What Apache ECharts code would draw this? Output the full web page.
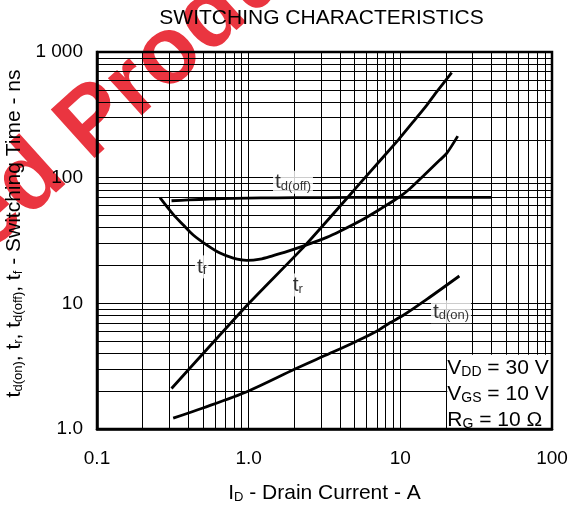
<!DOCTYPE html>
<html><head><meta charset="utf-8">
<script src="https://cdn.jsdelivr.net/npm/echarts@6/dist/echarts.min.js"></script>
<style>html,body{margin:0;padding:0;background:#fff}#c{width:580px;height:506px}</style>
</head><body><div id="c"></div>
<script>
// ---- tick labels ----
const xTickLabels = ['0.1', '1.0', '10', '100'];
const yTickLabels = ['1.0', '10', '100', '1 000'];
// ---- grid line positions (data units) ----
const gridX = [0.2,0.3,0.4,0.5,0.6,0.7,0.8,0.9,1,2,3,4,5,6,7,8,9,10,20,30,40,50,60,70,80,90];
const gridY = [2,3,4,5,6,7,8,9,10,20,30,40,50,60,70,80,90,100,200,300,400,500,600,700,800,900];
// ---- curves ----
const tdOffX = [0.31, 0.4, 0.55, 0.8, 1.2, 2, 5, 40];
const tdOffY = [65.5, 66.5, 67.5, 68.5, 69, 69.3, 69.6, 69.8];
const tfX = [0.26, 0.318, 0.371, 0.431, 0.528, 0.647, 0.792, 0.97, 1.19, 1.45, 1.78, 2.41, 3.27, 4.0, 5.69, 7.5, 9.9, 11.6, 14.5, 18.2, 20.2, 23.9];
const tfY = [69.3, 51, 42, 35, 29.2, 25.1, 22.9, 22.0, 22.5, 24, 25.8, 29.2, 33.5, 37.5, 46.7, 57, 70.5, 82, 106, 138, 156, 214];
const trX = [0.31, 0.98, 2.35, 5.85, 9.7, 12.5, 15, 17.3, 21.8];
const trY = [2.1, 9.7, 28.8, 100, 200, 290, 380, 480, 685];
const tdOnX = [0.318, 0.5, 0.99, 2.02, 3.44, 5.15, 6.98, 8.54, 10.4, 15, 24.5];
const tdOnY = [1.22, 1.47, 2.0, 3.0, 4.0, 5.0, 6.0, 7.0, 8.0, 10.8, 16.5];
// ---- curve labels ----
const labelX = [1.96, 0.49, 2.11, 21.6];
const labelY = [92, 19.5, 14.0, 8.56];
const labelText = ['{t|t}{s|d(off)}', '{t|t}{s|f}', '{t|t}{s|r}', '{t|t}{s|d(on)}'];
// ---- conditions box ----
const boxX = [20.4, 100];
const boxY = [1, 3.9];
const conditions = ['V{s|DD} = 30 V', 'V{s|GS} = 10 V', 'R{s|G} = 10 Ω'];

const FONT = '"Liberation Sans", Arial, Helvetica, sans-serif';
const zip = (a, b) => a.map((v, i) => [v, b[i]]);
const decadeLabel = (arr, base) => (v) => {
  const i = Math.round(Math.log10(v)) - base;
  return arr[i] !== undefined ? arr[i] : '';
};
const subRich = { s: { fontSize: 13, padding: [8, 0, 0, 0], fontFamily: FONT, color: '#000' },
                  t: { fontSize: 21, fontFamily: FONT, color: '#000' } };

const curveStyle = { color: '#000', width: 2.8 };
function curve(name, xs, ys, smooth) {
  return { name, type: 'line', data: zip(xs, ys), symbol: 'none', smooth: smooth,
           lineStyle: curveStyle, itemStyle: { color: '#000' }, z: 5, silent: true };
}

const chart = echarts.init(document.getElementById('c'), null, { renderer: 'canvas' });
const deg = Math.PI / 180;
chart.setOption({
  animation: false,
  backgroundColor: '#fff',
  grid: { left: 97, right: 28, top: 52, bottom: 77, show: true, borderColor: '#000', borderWidth: 2.5,
          backgroundColor: 'transparent', z: 10, containLabel: false, outerBoundsMode: 'none' },
  xAxis: {
    type: 'log', logBase: 10, min: 0.1, max: 100, z: 10,
    axisLine: { lineStyle: { color: '#000', width: 2.5 } },
    axisTick: { show: false }, splitLine: { show: false },
    axisLabel: { formatter: decadeLabel(xTickLabels, -1), fontSize: 19, color: '#000', fontFamily: FONT, margin: 20 },
    name: 'I{s|D} - Drain Current - A', nameLocation: 'middle', nameGap: 54,
    nameTextStyle: { fontSize: 21, color: '#000', fontFamily: FONT, rich: subRich }
  },
  yAxis: {
    type: 'log', logBase: 10, min: 1, max: 1000, z: 10,
    axisLine: { lineStyle: { color: '#000', width: 2.5 } },
    axisTick: { show: false }, splitLine: { show: false },
    axisLabel: { formatter: decadeLabel(yTickLabels, 0), fontSize: 19, color: '#000', fontFamily: FONT, margin: 14 },
    name: 't{s|d(on)}, t{s|r}, t{s|d(off)}, t{s|f} - Switching Time - ns',
    nameLocation: 'middle', nameGap: 64, nameRotate: 90,
    nameTextStyle: { fontSize: 21, color: '#000', fontFamily: FONT, rich: subRich, padding: [0, 0, 0, 14] }
  },
  graphic: [
    { type: 'text', x: 104, y: 178, rotation: 42 * deg, z: -10, silent: true,
      style: { text: 'Products', font: 'bold 95px ' + FONT, fill: '#ea3540', align: 'left', verticalAlign: 'bottom' } },
    { type: 'text', x: 104, y: 178, rotation: 42 * deg, z: -10, silent: true,
      style: { text: 'ued ', font: 'bold 95px ' + FONT, fill: '#ea3540', align: 'right', verticalAlign: 'bottom' } },
    { type: 'text', x: 321.5, y: 18, z: 20, silent: true,
      style: { text: 'SWITCHING CHARACTERISTICS', font: '21px ' + FONT, fill: '#000', align: 'center', verticalAlign: 'middle' } }
  ],
  series: [
    { name: 'gridlines', type: 'line', data: [], symbol: 'none', z: 1, silent: true,
      markLine: { z: 1, silent: true, symbol: ['none', 'none'], animation: false,
        label: { show: false }, lineStyle: { color: '#000', width: 1, type: 'solid' },
        emphasis: { disabled: true },
        data: gridX.map(v => ({ xAxis: v })).concat(gridY.map(v => ({ yAxis: v }))) } },
    { name: 'box', type: 'line', data: [], symbol: 'none', z: 3, silent: true,
      markArea: { z: 4, silent: true, itemStyle: { color: '#fff', opacity: 1 },
        label: { show: true, position: 'insideLeft', distance: 0, offset: [0, 2], formatter: conditions.join('\n'),
                 fontSize: 21, lineHeight: 26, color: '#000', fontFamily: FONT,
                 rich: { s: { fontSize: 14, padding: [8, 0, 0, 0], fontFamily: FONT, color: '#000', lineHeight: 26 } } },
        data: [[{ coord: [boxX[0], boxY[0]] }, { coord: [boxX[1], boxY[1]] }]] } },
    curve('td(off)', tdOffX, tdOffY, 0.3),
    curve('tf', tfX, tfY, 0.3),
    curve('tr', trX, trY, 0.2),
    curve('td(on)', tdOnX, tdOnY, 0.3),
    { name: 'labels', type: 'scatter', data: zip(labelX, labelY), symbolSize: 0, z: 6, silent: true,
      label: { show: true, position: 'inside', backgroundColor: '#fff', padding: [1, 2, 1, 2],
               formatter: p => labelText[p.dataIndex], rich: subRich } }
  ]
});
</script></body></html>
